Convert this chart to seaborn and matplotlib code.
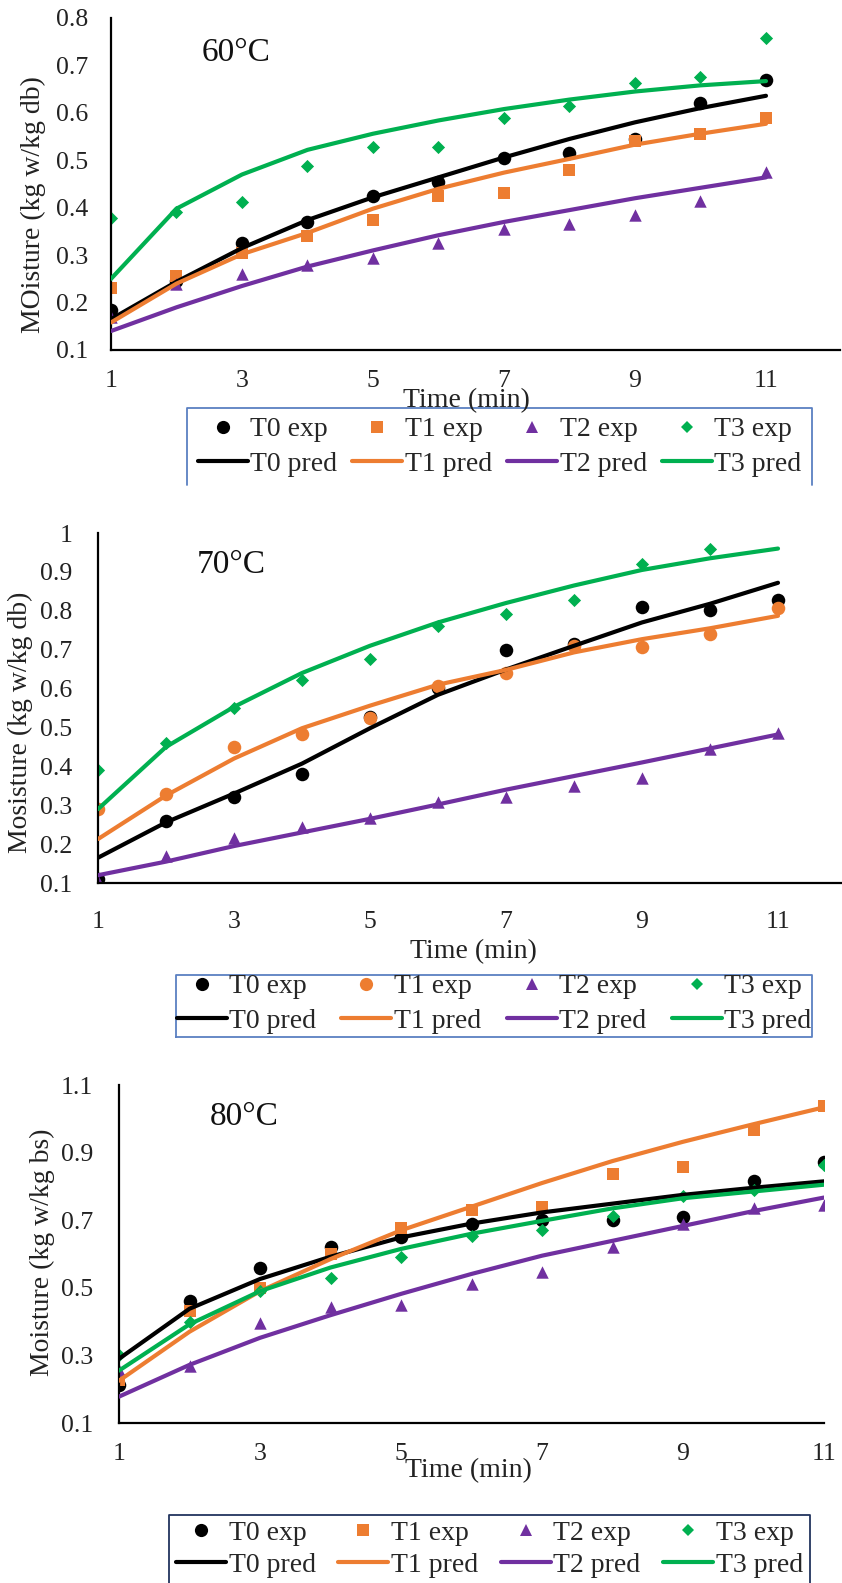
import matplotlib
matplotlib.use("Agg")
import matplotlib.pyplot as plt
from matplotlib.lines import Line2D
from matplotlib.ticker import FuncFormatter, FixedLocator
import pandas as pd
import seaborn as sns

# ---------------------------------------------------------------- data
time_min = [1, 2, 3, 4, 5, 6, 7, 8, 9, 10, 11]
series = ["T0", "T1", "T2", "T3"]

# 60 °C
exp60_t0 = [0.185, 0.245, 0.325, 0.37, 0.425, 0.455, 0.505, 0.515, 0.545, 0.62, 0.67]
exp60_t1 = [0.23, 0.255, 0.305, 0.34, 0.375, 0.425, 0.43, 0.48, 0.54, 0.555, 0.59]
exp60_t2 = [0.17, 0.24, 0.26, 0.28, 0.295, 0.325, 0.355, 0.365, 0.385, 0.415, 0.475]
exp60_t3 = [0.378, 0.39, 0.413, 0.489, 0.527, 0.527, 0.59, 0.615, 0.664, 0.675, 0.757]
pred60_t0 = [0.165, 0.244, 0.315, 0.374, 0.422, 0.464, 0.506, 0.545, 0.58, 0.61, 0.636]
pred60_t1 = [0.158, 0.24, 0.302, 0.347, 0.398, 0.44, 0.474, 0.503, 0.533, 0.556, 0.577]
pred60_t2 = [0.14, 0.19, 0.235, 0.276, 0.31, 0.342, 0.37, 0.395, 0.42, 0.442, 0.464]
pred60_t3 = [0.25, 0.398, 0.47, 0.522, 0.556, 0.584, 0.608, 0.628, 0.645, 0.658, 0.667]

# 70 °C
exp70_t0 = [0.11, 0.26, 0.32, 0.38, 0.528, 0.602, 0.7, 0.714, 0.809, 0.802, 0.827]
exp70_t1 = [0.29, 0.33, 0.45, 0.482, 0.525, 0.606, 0.64, 0.71, 0.708, 0.74, 0.807]
exp70_t2 = [0.105, 0.17, 0.215, 0.245, 0.268, 0.308, 0.32, 0.35, 0.37, 0.445, 0.485]
exp70_t3 = [0.39, 0.46, 0.55, 0.622, 0.677, 0.76, 0.792, 0.827, 0.92, 0.958]
pred70_t0 = [0.165, 0.256, 0.33, 0.407, 0.498, 0.584, 0.649, 0.71, 0.77, 0.818, 0.872]
pred70_t1 = [0.213, 0.325, 0.42, 0.498, 0.556, 0.61, 0.648, 0.693, 0.727, 0.755, 0.787]
pred70_t2 = [0.12, 0.155, 0.195, 0.23, 0.265, 0.302, 0.34, 0.375, 0.41, 0.446, 0.482]
pred70_t3 = [0.29, 0.45, 0.553, 0.64, 0.71, 0.77, 0.82, 0.865, 0.905, 0.935, 0.96]

# 80 °C
exp80_t0 = [0.212, 0.462, 0.56, 0.622, 0.65, 0.69, 0.7, 0.702, 0.71, 0.815, 0.872]
exp80_t1 = [0.228, 0.432, 0.5, 0.6, 0.676, 0.729, 0.74, 0.838, 0.858, 0.968, 1.038]
exp80_t2 = [0.258, 0.27, 0.396, 0.443, 0.448, 0.512, 0.548, 0.622, 0.688, 0.735, 0.744]
exp80_t3 = [0.301, 0.398, 0.49, 0.529, 0.59, 0.654, 0.671, 0.711, 0.772, 0.788, 0.862]
pred80_t0 = [0.29, 0.438, 0.526, 0.592, 0.649, 0.69, 0.723, 0.749, 0.775, 0.796, 0.815]
pred80_t1 = [0.225, 0.37, 0.49, 0.585, 0.67, 0.74, 0.81, 0.875, 0.932, 0.984, 1.034]
pred80_t2 = [0.178, 0.272, 0.352, 0.419, 0.482, 0.541, 0.595, 0.639, 0.683, 0.727, 0.767]
pred80_t3 = [0.255, 0.392, 0.49, 0.56, 0.615, 0.66, 0.698, 0.735, 0.765, 0.785, 0.805]

x_ticks = [1, 3, 5, 7, 9, 11]
y_ticks60 = [0.1, 0.2, 0.3, 0.4, 0.5, 0.6, 0.7, 0.8]
y_ticks70 = [0.1, 0.2, 0.3, 0.4, 0.5, 0.6, 0.7, 0.8, 0.9, 1.0]
y_ticks80 = [0.1, 0.3, 0.5, 0.7, 0.9, 1.1]

x_title = "Time (min)"
y_title60 = "MOisture (kg w/kg db)"
y_title70 = "Mosisture (kg w/kg db)"
y_title80 = "Moisture (kg w/kg bs)"

# ---------------------------------------------------------------- style
sns.set_theme(style="white")
plt.rcParams["font.family"] = ["Liberation Serif", "DejaVu Serif"]
plt.rcParams["axes.unicode_minus"] = False

palette = {"T0": "#000000", "T1": "#ED7D31", "T2": "#7030A0", "T3": "#00B050"}
marker_size = {"o": 95, "s": 85, "^": 80, "D": 45}

W, H = 842, 1583
fig = plt.figure(figsize=(W / 100, H / 100), dpi=100)


def fx(px):
    return px / W


def fy(py):
    return 1 - py / H


def long_frame(values):
    rows = []
    for name, vals in values.items():
        for t, v in zip(time_min, vals):
            rows.append((t, v, name))
    return pd.DataFrame(rows, columns=["time", "moisture", "series"])


panels = [
    dict(exp=[exp60_t0, exp60_t1, exp60_t2, exp60_t3],
         pred=[pred60_t0, pred60_t1, pred60_t2, pred60_t3],
         markers=["o", "s", "^", "D"], yticks=y_ticks60, ylim=(0.1, 0.8),
         ytitle=y_title60, temp="60°C",
         box=(111, 18, 840, 350), xmax=12.13, xpad=14.5, ypad=16.5,
         ylab_xy=(33, 205), xlab_xy=(466, 401), temp_xy=(236, 53),
         leg=(187, 408, 812, 485), leg_pad=0.38, leg_gap=0.33,
         leg_color="#5B80C2", leg_closed=False),
    dict(exp=[exp70_t0, exp70_t1, exp70_t2, exp70_t3],
         pred=[pred70_t0, pred70_t1, pred70_t2, pred70_t3],
         markers=["o", "o", "^", "D"], yticks=y_ticks70, ylim=(0.1, 1.0),
         ytitle=y_title70, temp="70°C",
         box=(98, 533, 846, 883), xmax=12.0, xpad=20.5, ypad=18.5,
         ylab_xy=(20, 722), xlab_xy=(473, 952), temp_xy=(231, 565),
         leg=(176, 975, 812, 1037), leg_pad=0.02, leg_gap=0.33,
         leg_color="#5B80C2", leg_closed=True),
    dict(exp=[exp80_t0, exp80_t1, exp80_t2, exp80_t3],
         pred=[pred80_t0, pred80_t1, pred80_t2, pred80_t3],
         markers=["o", "s", "^", "D"], yticks=y_ticks80, ylim=(0.1, 1.1),
         ytitle=y_title80, temp="80°C",
         box=(119, 1085, 824, 1423), xmax=11.0, xpad=14.5, ypad=18.5,
         ylab_xy=(42, 1252), xlab_xy=(468, 1471), temp_xy=(244, 1117),
         leg=(169, 1515, 810, 1600), leg_pad=0.25, leg_gap=0.24,
         leg_color="#22345E", leg_closed=False),
]

fmt = FuncFormatter(lambda v, _: f"{v:g}")

for p in panels:
    left, top, right, bottom = p["box"]
    ax = fig.add_axes([fx(left), fy(bottom), (right - left) / W, (bottom - top) / H])
    ax.set_facecolor("none")

    exp_df = long_frame(dict(zip(series, p["exp"])))
    pred_df = long_frame(dict(zip(series, p["pred"])))

    for name, mk in zip(series, p["markers"]):
        sns.scatterplot(data=exp_df[exp_df["series"] == name], x="time", y="moisture",
                        color=palette[name], marker=mk, s=marker_size[mk],
                        linewidth=0, legend=False, ax=ax, zorder=2)
    sns.lineplot(data=pred_df, x="time", y="moisture", hue="series", palette=palette,
                 linewidth=3.0, errorbar=None, legend=False, ax=ax, zorder=3)

    ax.set_xlim(1, p["xmax"])
    ax.set_ylim(*p["ylim"])
    ax.xaxis.set_major_locator(FixedLocator(x_ticks))
    ax.yaxis.set_major_locator(FixedLocator(p["yticks"]))
    ax.yaxis.set_major_formatter(fmt)
    ax.xaxis.set_major_formatter(fmt)
    ax.tick_params(axis="x", length=0, pad=p["xpad"], labelsize=18.5, colors="#222222")
    ax.tick_params(axis="y", length=0, pad=p["ypad"], labelsize=18.5, colors="#222222")
    ax.set_xlabel("")
    ax.set_ylabel("")
    for side in ("top", "right"):
        ax.spines[side].set_visible(False)
    for side in ("left", "bottom"):
        ax.spines[side].set_color("black")
        ax.spines[side].set_linewidth(1.6)

    fig.text(fx(p["ylab_xy"][0]), fy(p["ylab_xy"][1]), p["ytitle"], rotation=90,
             ha="center", va="center", fontsize=20, color="#222222")
    fig.text(fx(p["xlab_xy"][0]), fy(p["xlab_xy"][1]), x_title,
             ha="center", va="center", fontsize=20, color="#222222")
    fig.text(fx(p["temp_xy"][0]), fy(p["temp_xy"][1]), p["temp"],
             ha="center", va="center", fontsize=24, color="#111111")

    # legend: experimental markers on the first row, predictions on the second
    handles, labels = [], []
    for name, mk in zip(series, p["markers"]):
        ms = {"o": 9.5, "s": 9, "^": 9, "D": 6.5}[mk]
        handles.append(Line2D([], [], linestyle="none", marker=mk, markersize=ms,
                              markerfacecolor=palette[name], markeredgewidth=0))
        labels.append(f"{name} exp")
        handles.append(Line2D([], [], color=palette[name], linewidth=3.0))
        labels.append(f"{name} pred")

    lx0, ltop, lx1, lbot = p["leg"]
    fig.legend(handles, labels, ncol=4, loc="upper left",
               bbox_to_anchor=(fx(lx0), fy(ltop), (lx1 - lx0) / W, 0.001),
               mode="expand", borderaxespad=0, frameon=False, fontsize=20,
               handlelength=1.8, handletextpad=0.1, columnspacing=0.5,
               labelspacing=p["leg_gap"], borderpad=p["leg_pad"])

    if p["leg_closed"]:
        xs = [lx0, lx0, lx1, lx1, lx0]
        ys = [lbot, ltop, ltop, lbot, lbot]
    else:
        xs = [lx0, lx0, lx1, lx1]
        ys = [lbot, ltop, ltop, lbot]
    fig.add_artist(Line2D([fx(v) for v in xs], [fy(v) for v in ys],
                          transform=fig.transFigure, color=p["leg_color"], linewidth=1.3))

fig.savefig("out.png", dpi=100)
